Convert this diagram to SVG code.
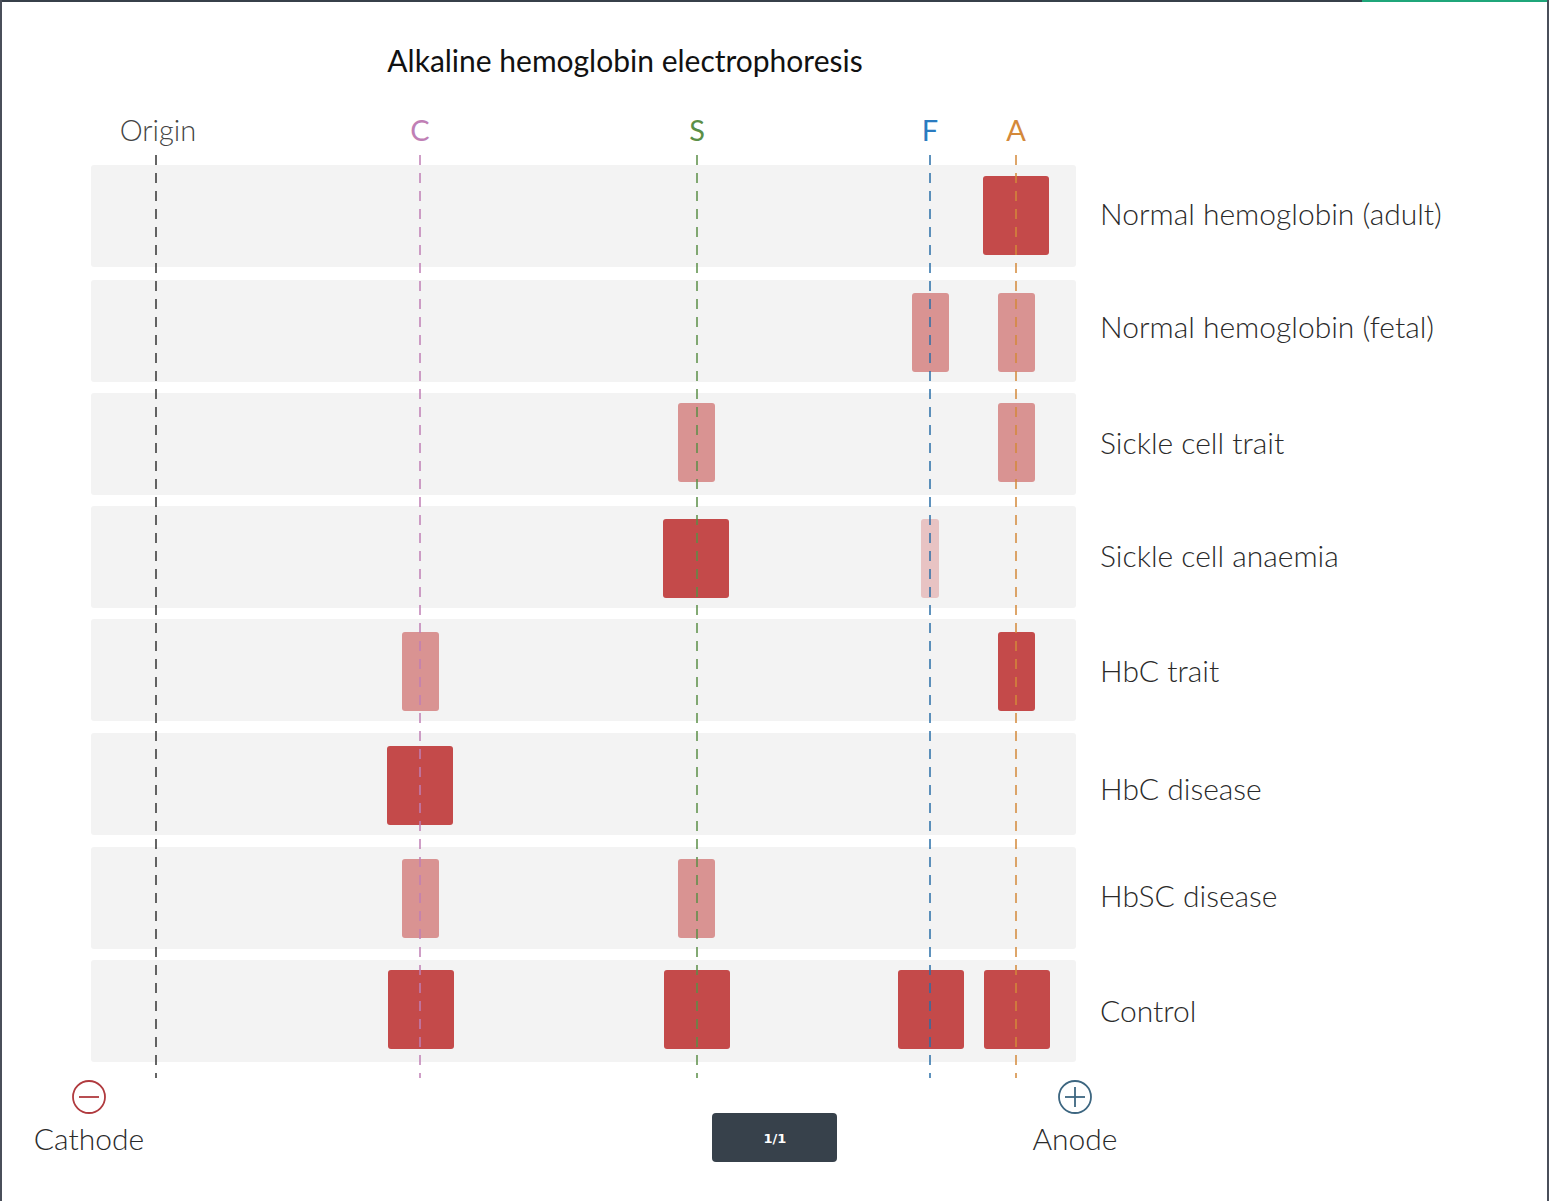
<svg xmlns="http://www.w3.org/2000/svg" width="1549" height="1201" viewBox="0 0 1549 1201">
<style>
.row{fill:#f3f3f3}
.dark{fill:#c44a4a}
.light{fill:#d99392}
.faint{fill:#e8c3c3}
.lbl{font-family:Lato,"Liberation Sans",sans-serif;font-weight:300;font-size:30px;fill:#2a2a2a}
.hdr{font-family:Lato,"Liberation Sans",sans-serif;font-weight:400;font-size:29px;text-anchor:middle}
.ln{stroke-width:1.5;stroke-dasharray:10,8;fill:none}
</style>
<rect x="0" y="0" width="1549" height="1201" fill="#fff"/>
<rect x="0" y="0" width="1549" height="2" fill="#37404a"/>
<rect x="1362" y="0" width="187" height="2" fill="#1fa67a"/>
<rect x="0" y="0" width="2" height="1201" fill="#4a4f5a"/>
<rect x="1547" y="0" width="2" height="1201" fill="#4a4f5a"/>
<text x="625" y="72" font-family="Lato,'Liberation Sans',sans-serif" font-size="30" fill="#111" text-anchor="middle">Alkaline hemoglobin electrophoresis</text>
<g id="headers">
<text class="hdr" x="158" y="141" fill="#444" style="font-weight:300">Origin</text>
<text class="hdr" x="420" y="141" fill="#c07fb5">C</text>
<text class="hdr" x="697" y="141" fill="#5b8f47">S</text>
<text class="hdr" x="930" y="141" fill="#2a7bc0">F</text>
<text class="hdr" x="1016" y="141" fill="#d4893a">A</text>
</g>
<g id="row1"><rect class="row" x="91" y="165" width="985" height="102" rx="3"/><rect class="dark" x="983" y="176" width="66" height="79" rx="3"/><text class="lbl" x="1100" y="225">Normal hemoglobin (adult)</text></g>
<g id="row2"><rect class="row" x="91" y="280" width="985" height="102" rx="3"/><rect class="light" x="912" y="293" width="37" height="79" rx="3"/><rect class="light" x="998" y="293" width="37" height="79" rx="3"/><text class="lbl" x="1100" y="338">Normal hemoglobin (fetal)</text></g>
<g id="row3"><rect class="row" x="91" y="393" width="985" height="102" rx="3"/><rect class="light" x="678" y="403" width="37" height="79" rx="3"/><rect class="light" x="998" y="403" width="37" height="79" rx="3"/><text class="lbl" x="1100" y="454">Sickle cell trait</text></g>
<g id="row4"><rect class="row" x="91" y="506" width="985" height="102" rx="3"/><rect class="dark" x="663" y="519" width="66" height="79" rx="3"/><rect class="faint" x="921" y="519" width="18" height="79" rx="3"/><text class="lbl" x="1100" y="567">Sickle cell anaemia</text></g>
<g id="row5"><rect class="row" x="91" y="619" width="985" height="102" rx="3"/><rect class="light" x="402" y="632" width="37" height="79" rx="3"/><rect class="dark" x="998" y="632" width="37" height="79" rx="3"/><text class="lbl" x="1100" y="682">HbC trait</text></g>
<g id="row6"><rect class="row" x="91" y="733" width="985" height="102" rx="3"/><rect class="dark" x="387" y="746" width="66" height="79" rx="3"/><text class="lbl" x="1100" y="800">HbC disease</text></g>
<g id="row7"><rect class="row" x="91" y="847" width="985" height="102" rx="3"/><rect class="light" x="402" y="859" width="37" height="79" rx="3"/><rect class="light" x="678" y="859" width="37" height="79" rx="3"/><text class="lbl" x="1100" y="907">HbSC disease</text></g>
<g id="row8"><rect class="row" x="91" y="960" width="985" height="102" rx="3"/><rect class="dark" x="388" y="970" width="66" height="79" rx="3"/><rect class="dark" x="664" y="970" width="66" height="79" rx="3"/><rect class="dark" x="898" y="970" width="66" height="79" rx="3"/><rect class="dark" x="984" y="970" width="66" height="79" rx="3"/><text class="lbl" x="1100" y="1022">Control</text></g>
<g id="connectors">
<line class="ln" x1="156" y1="155" x2="156" y2="1078" stroke="#333"/>
<line class="ln" x1="420" y1="155" x2="420" y2="1078" stroke="#c07fb5"/>
<line class="ln" x1="697" y1="155" x2="697" y2="1078" stroke="#5b8f47"/>
<line class="ln" x1="930" y1="155" x2="930" y2="1078" stroke="#2a6fa8"/>
<line class="ln" x1="1016" y1="155" x2="1016" y2="1078" stroke="#d4893a"/>
</g>
<g id="cathode">
<circle cx="89" cy="1097" r="16" fill="none" stroke="#b03a3e" stroke-width="1.8"/>
<line x1="79" y1="1097" x2="99" y2="1097" stroke="#b03a3e" stroke-width="1.8"/>
<text class="lbl" x="89" y="1150" text-anchor="middle">Cathode</text>
</g>
<g id="anode">
<circle cx="1075" cy="1097" r="16" fill="none" stroke="#3d6680" stroke-width="1.8"/>
<line x1="1065" y1="1097" x2="1085" y2="1097" stroke="#3d6680" stroke-width="1.8"/>
<line x1="1075" y1="1087" x2="1075" y2="1107" stroke="#3d6680" stroke-width="1.8"/>
<text class="lbl" x="1075" y="1150" text-anchor="middle">Anode</text>
</g>
<g id="pager">
<rect x="712" y="1113" width="125" height="49" rx="4" fill="#37414b"/>
<text x="775" y="1143" font-family="'DejaVu Sans',sans-serif" font-weight="bold" font-size="13" fill="#fff" text-anchor="middle">1/1</text>
</g>
</svg>
